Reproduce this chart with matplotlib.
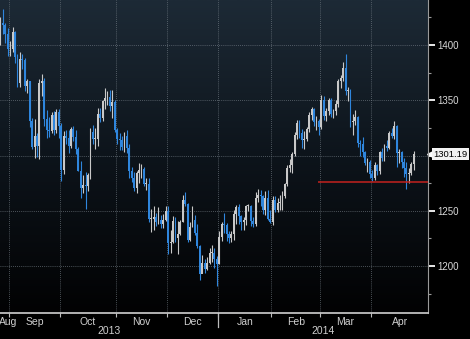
import numpy as np
import matplotlib.pyplot as plt
import matplotlib.transforms as mtransforms
from matplotlib.colors import LinearSegmentedColormap

plt.rcParams['font.family'] = ['Liberation Sans Narrow', 'Liberation Sans', 'DejaVu Sans']

# daily bars, late Aug 2013 -> late Apr 2014
months = ['Aug', 'Sep', 'Oct', 'Nov', 'Dec', 'Jan', 'Feb', 'Mar', 'Apr']
month_len = [4, 21, 23, 21, 21, 22, 20, 21, 18]
years = ['2013', '2014']
first_open = 1405

close = [
    1420, 1418, 1410, 1396,
    1396, 1412, 1389, 1366, 1387, 1386, 1363, 1367, 1331, 1308, 1318, 1309, 1366, 1367, 1333, 1323, 1322, 1337, 1323, 1339, 1327,
    1287, 1318, 1316, 1309, 1324, 1317, 1306, 1286, 1271, 1273, 1272, 1282, 1321, 1315, 1315, 1338, 1334, 1349, 1352, 1353, 1345, 1348, 1323,
    1315, 1314, 1308, 1318, 1307, 1286, 1280, 1271, 1284, 1287, 1288, 1274, 1274, 1243, 1243, 1244, 1240, 1242, 1238, 1242, 1250,
    1221, 1222, 1241, 1225, 1229, 1240, 1260, 1256, 1224, 1235, 1242, 1230, 1218, 1193, 1203, 1197, 1203, 1212, 1212, 1206, 1202,
    1226, 1238, 1237, 1229, 1225, 1229, 1247, 1253, 1245, 1240, 1242, 1254, 1254, 1241, 1238, 1262, 1264, 1263, 1251, 1262, 1243, 1240,
    1260, 1251, 1257, 1257, 1263, 1274, 1289, 1291, 1301, 1319, 1329, 1320, 1314, 1315, 1324, 1337, 1342, 1330, 1331, 1326,
    1350, 1336, 1340, 1350, 1338, 1340, 1347, 1367, 1370, 1379, 1358, 1359, 1330, 1331, 1335, 1311, 1310, 1303, 1293, 1294, 1283,
    1280, 1291, 1286, 1303, 1298, 1309, 1307, 1320, 1318, 1327, 1302, 1303, 1294, 1289, 1283, 1284, 1292, 1301.19,
]
high = [
    1425, 1433, 1420, 1415,
    1404, 1416, 1413, 1392, 1394, 1392, 1388, 1369, 1367, 1334, 1333, 1320, 1369, 1374, 1370, 1341, 1335, 1339, 1340, 1342, 1342,
    1329, 1322, 1323, 1323, 1326, 1327, 1323, 1308, 1295, 1282, 1285, 1284, 1325, 1328, 1325, 1343, 1343, 1350, 1361, 1358, 1359, 1359, 1350,
    1325, 1320, 1318, 1321, 1323, 1310, 1290, 1285, 1286, 1293, 1292, 1290, 1280, 1280, 1252, 1254, 1248, 1253, 1246, 1247, 1254,
    1254, 1233, 1245, 1244, 1241, 1242, 1264, 1267, 1257, 1240, 1254, 1246, 1238, 1219, 1210, 1206, 1208, 1216, 1219, 1216, 1209,
    1232, 1240, 1248, 1239, 1232, 1232, 1251, 1255, 1256, 1246, 1244, 1255, 1256, 1255, 1244, 1267, 1270, 1269, 1264, 1268, 1269, 1251,
    1263, 1263, 1262, 1264, 1268, 1275, 1291, 1297, 1303, 1321, 1332, 1332, 1324, 1322, 1326, 1339, 1344, 1343, 1336, 1333,
    1355, 1354, 1343, 1352, 1352, 1342, 1350, 1369, 1373, 1385, 1392, 1362, 1360, 1338, 1341, 1336, 1314, 1317, 1304, 1298, 1296,
    1287, 1294, 1292, 1304, 1307, 1310, 1314, 1322, 1325, 1331, 1328, 1306, 1304, 1298, 1294, 1289, 1294, 1304,
]
low = [
    1400, 1410, 1402, 1390,
    1390, 1394, 1384, 1362, 1362, 1378, 1358, 1357, 1326, 1306, 1298, 1299, 1297, 1354, 1327, 1316, 1317, 1320, 1319, 1320, 1316,
    1277, 1283, 1310, 1302, 1307, 1313, 1301, 1286, 1262, 1266, 1252, 1268, 1279, 1310, 1306, 1309, 1330, 1331, 1342, 1346, 1340, 1334, 1321,
    1310, 1305, 1305, 1303, 1302, 1280, 1276, 1268, 1266, 1275, 1280, 1272, 1269, 1240, 1231, 1233, 1236, 1238, 1234, 1234, 1241,
    1211, 1212, 1221, 1222, 1211, 1228, 1240, 1254, 1222, 1223, 1235, 1228, 1216, 1187, 1194, 1194, 1196, 1202, 1204, 1198, 1182,
    1202, 1223, 1230, 1223, 1221, 1222, 1224, 1238, 1238, 1233, 1233, 1237, 1250, 1236, 1235, 1236, 1258, 1254, 1247, 1246, 1242, 1239,
    1237, 1249, 1249, 1251, 1251, 1262, 1272, 1285, 1284, 1300, 1315, 1316, 1307, 1306, 1313, 1321, 1332, 1327, 1323, 1319,
    1324, 1332, 1331, 1337, 1335, 1334, 1337, 1344, 1361, 1367, 1355, 1349, 1326, 1319, 1328, 1308, 1300, 1299, 1291, 1285, 1280,
    1277, 1278, 1282, 1283, 1295, 1295, 1304, 1306, 1316, 1315, 1290, 1293, 1289, 1281, 1270, 1275, 1282, 1287,
]
support_level = 1276
y_major = [1200, 1250, 1300, 1350, 1400]
y_labels = ['1200', '1250', '', '1350', '1400']   # 1300 hidden under the price tag
y_minor = [1175, 1225, 1275, 1325, 1375, 1425]

close = np.array(close, dtype=float)
high = np.array(high, dtype=float)
low = np.array(low, dtype=float)
x = np.arange(len(close))
opens = np.r_[first_open, close[:-1]]
up = close >= opens
cols = np.where(up, '#c8c8c8', '#2f86dd')
body_lo = np.minimum(opens, close)
body_h = np.maximum(np.abs(close - opens), 0.8)

bounds = np.cumsum(month_len)[:-1] - 0.5
xmin, xmax = -0.2, 175.9

fig = plt.figure(figsize=(4.7, 3.39), dpi=100, facecolor='black')
ax = fig.add_axes([0, 26 / 339, 428 / 470, 313 / 339])
ax.set_facecolor('black')

# background gradient
cmap = LinearSegmentedColormap.from_list('bg', ['#020203', '#0d141b', '#1d2a36'])
grad = np.linspace(0, 1, 256).reshape(-1, 1)
ax.imshow(grad, extent=[0, 1, 0, 1], transform=ax.transAxes, origin='lower',
          aspect='auto', cmap=cmap, zorder=0)

ax.vlines(x, low, high, colors=cols, lw=0.8, zorder=3)
ax.bar(x, body_h, bottom=body_lo, width=0.75, color=cols, lw=0, zorder=3)

ax.set_xlim(xmin, xmax)
ax.set_ylim(1157.5, 1440.7)

# support line starting end of Feb
sup_start = sum(month_len[:7]) - 1.5
ax.hlines(support_level, sup_start, xmax, colors='#c4221e', lw=1.1, zorder=4)

# grid
ax.set_xticks(bounds)
ax.set_xticklabels([])
ax.set_yticks(y_major)
ax.set_yticklabels(y_labels)
ax.set_yticks(y_minor, minor=True)
ax.grid(True, which='major', color='#7a848c', ls=(0, (1, 1.5)), lw=0.6, alpha=0.8, zorder=1)

ax.yaxis.tick_right()
ax.tick_params(axis='y', which='major', colors='#e8e8e8', length=5, width=1.4,
               labelsize=7, labelcolor='#d8d8d8', pad=1.5)
ax.tick_params(axis='y', which='minor', colors='#9a9a9a', length=2, width=0.8)
ax.tick_params(axis='x', colors='#bcbcbc', length=3, width=0.8)

for s in ['top', 'left']:
    ax.spines[s].set_visible(False)
ax.spines['bottom'].set_color('#d0d0d0')
ax.spines['bottom'].set_linewidth(1.2)
ax.spines['right'].set_color('#9a9a9a')
ax.spines['right'].set_linewidth(0.8)

# month and year labels
trans = mtransforms.blended_transform_factory(ax.transData, ax.transAxes)
edges = np.r_[xmin, bounds, xmax]
for i, m in enumerate(months):
    xc = (edges[i] + edges[i + 1]) / 2
    if i == 0:
        xc = 3.3
    ax.text(xc, -0.03, m, transform=trans, ha='center', va='center',
            fontsize=7.5, color='#cfcfcf')

year_split = bounds[4]
ax.plot([year_split, year_split], [0, -0.046], transform=trans, color='#bcbcbc',
        lw=0.9, clip_on=False)
ax.text((xmin + year_split) / 2, -0.058, years[0], transform=trans, ha='center',
        va='center', fontsize=7.5, color='#cfcfcf')
ax.text((year_split + xmax) / 2, -0.058, years[1], transform=trans, ha='center',
        va='center', fontsize=7.5, color='#cfcfcf')

# last price tag
ytrans = mtransforms.blended_transform_factory(ax.transAxes, ax.transData)
ax.plot([1.005], [close[-1]], marker='<', ms=4, color='white', transform=ytrans, clip_on=False)
ax.text(1.012, close[-1], '%.2f' % close[-1], transform=ytrans, ha='left', va='center',
        fontsize=6.8, color='black',
        bbox=dict(boxstyle='square,pad=0.15', fc='#f2f2f2', ec='none'))

fig.savefig('out.png', dpi=100, facecolor='black')
